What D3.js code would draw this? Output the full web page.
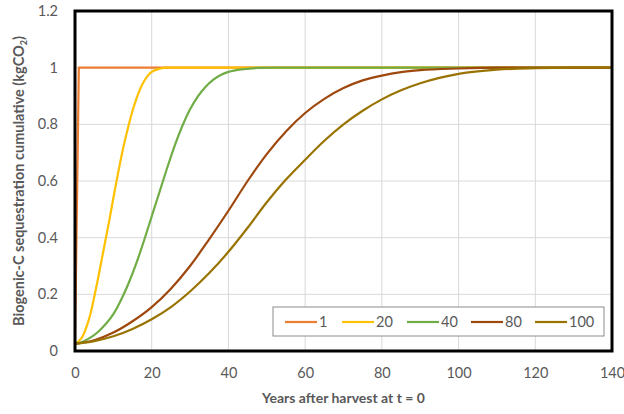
<!DOCTYPE html>
<html>
<head>
<meta charset="utf-8">
<script src="https://cdn.jsdelivr.net/npm/d3@7"></script>
<style>
  body { margin: 0; background: #fff; }
  text { font-family: Lato, "Open Sans", sans-serif; }
</style>
</head>
<body>
<div id="chart"></div>
<script>
// rotation-length series (legend labels)
const seriesNames = ['1', '20', '40', '80', '100'];
const seriesColors = ['#ED7D31', '#FFC000', '#70AD47', '#9E480E', '#997300'];

const years1 = [0, 1, 140];
const vals1  = [0.025, 1, 1];

const years20 = [0, 1, 2, 3, 4, 5, 6, 7, 8, 9, 10, 11, 12, 13, 14, 15, 16, 17, 18, 19, 20, 22, 24, 140];
const vals20  = [0.025, 0.035, 0.052, 0.085, 0.13, 0.19, 0.255, 0.325, 0.395, 0.465, 0.54, 0.612, 0.68,
                 0.742, 0.798, 0.848, 0.89, 0.925, 0.952, 0.972, 0.985, 0.996, 1, 1];

const years40 = [0, 2, 4, 6, 8, 10, 12, 14, 16, 18, 20, 22, 24, 26, 28, 30, 32, 34, 36, 38, 40, 44, 48, 52, 140];
const vals40  = [0.025, 0.033, 0.047, 0.067, 0.095, 0.13, 0.18, 0.24, 0.31, 0.39, 0.475, 0.56, 0.645, 0.725,
                 0.795, 0.853, 0.898, 0.932, 0.957, 0.974, 0.985, 0.995, 0.999, 1, 1];

const years80 = [0, 5, 10, 15, 20, 25, 30, 35, 40, 45, 50, 55, 60, 65, 70, 75, 80, 85, 90, 100, 110, 140];
const vals80  = [0.025, 0.038, 0.065, 0.105, 0.155, 0.22, 0.3, 0.395, 0.495, 0.6, 0.695, 0.775, 0.84, 0.89,
                 0.928, 0.955, 0.972, 0.984, 0.991, 0.997, 1, 1];

const years100 = [0, 5, 10, 15, 20, 25, 30, 35, 40, 45, 50, 55, 60, 65, 70, 75, 80, 85, 90, 95, 100, 110, 120, 130, 140];
const vals100  = [0.025, 0.035, 0.052, 0.078, 0.112, 0.155, 0.21, 0.275, 0.35, 0.435, 0.525, 0.605, 0.675, 0.742,
                  0.8, 0.848, 0.888, 0.92, 0.945, 0.964, 0.978, 0.993, 0.998, 1, 1];

const xTicks = [0, 20, 40, 60, 80, 100, 120, 140];
const yTicks = [0, 0.2, 0.4, 0.6, 0.8, 1, 1.2];

const seriesYears = [years1, years20, years40, years80, years100];
const seriesVals  = [vals1, vals20, vals40, vals80, vals100];

const width = 624, height = 414;
const margin = { left: 75, right: 12, top: 11, bottom: 63 };

const svg = d3.select('#chart').append('svg')
  .attr('width', width)
  .attr('height', height);

const x = d3.scaleLinear().domain([0, 140]).range([margin.left, width - margin.right]);
const y = d3.scaleLinear().domain([0, 1.2]).range([height - margin.bottom, margin.top]);

// gridlines
svg.append('g')
  .selectAll('line')
  .data(yTicks.slice(1, -1))
  .join('line')
  .attr('x1', x(0)).attr('x2', x(140))
  .attr('y1', d => y(d)).attr('y2', d => y(d))
  .attr('stroke', '#D9D9D9').attr('stroke-width', 1);

svg.append('g')
  .selectAll('line')
  .data(xTicks.slice(1, -1))
  .join('line')
  .attr('x1', d => x(d)).attr('x2', d => x(d))
  .attr('y1', y(0)).attr('y2', y(1.2))
  .attr('stroke', '#D9D9D9').attr('stroke-width', 1);

// axes (labels only, Excel style)
const xAxis = svg.append('g')
  .attr('transform', `translate(0,${y(0)})`)
  .call(d3.axisBottom(x).tickValues(xTicks).tickSize(0).tickPadding(17));
const yAxis = svg.append('g')
  .attr('transform', `translate(${x(0)},0)`)
  .call(d3.axisLeft(y).tickValues(yTicks).tickSize(0).tickPadding(17)
    .tickFormat(d => d3.format('~g')(d)));
[xAxis, yAxis].forEach(a => {
  a.select('.domain').remove();
  a.selectAll('text')
    .attr('font-size', '14.5px')
    .attr('fill', '#595959')
    .style('font-family', 'Lato, "Open Sans", sans-serif');
});

// lines
const smooth = d3.line()
  .x(d => x(d[0]))
  .y(d => y(d[1]))
  .curve(d3.curveMonotoneX);
const straight = d3.line()
  .x(d => x(d[0]))
  .y(d => y(d[1]));

seriesNames.forEach((name, i) => {
  const pts = seriesYears[i].map((yr, j) => [yr, seriesVals[i][j]]);
  svg.append('path')
    .datum(pts)
    .attr('fill', 'none')
    .attr('stroke', seriesColors[i])
    .attr('stroke-width', 2.2)
    .attr('stroke-linejoin', 'round')
    .attr('d', i === 0 ? straight(pts) : smooth(pts));
});

// plot border
svg.append('rect')
  .attr('x', x(0)).attr('y', y(1.2))
  .attr('width', x(140) - x(0))
  .attr('height', y(0) - y(1.2))
  .attr('fill', 'none')
  .attr('stroke', '#000')
  .attr('stroke-width', 3);

// legend
const legend = svg.append('g').attr('transform', 'translate(273,307)');
legend.append('rect')
  .attr('width', 331).attr('height', 29)
  .attr('fill', '#fff')
  .attr('stroke', '#8C8C8C')
  .attr('stroke-width', 1);
const legendX = [12, 69, 134, 198, 262];
seriesNames.forEach((name, i) => {
  const g = legend.append('g').attr('transform', `translate(${legendX[i]},15)`);
  g.append('line')
    .attr('x1', 0).attr('x2', 32)
    .attr('stroke', seriesColors[i]).attr('stroke-width', 2.2);
  g.append('text')
    .attr('x', 34).attr('y', 5)
    .attr('font-size', '14.5px')
    .attr('fill', '#595959')
    .text(name);
});

// axis titles
svg.append('text')
  .attr('x', (x(0) + x(140)) / 2)
  .attr('y', 403)
  .attr('text-anchor', 'middle')
  .attr('font-size', '14px')
  .attr('font-weight', 'bold')
  .attr('fill', '#595959')
  .text('Years after harvest at t = 0');

const yt = svg.append('text')
  .attr('transform', `translate(24,${(y(0) + y(1.2)) / 2}) rotate(-90)`)
  .attr('text-anchor', 'middle')
  .attr('font-size', '14.5px')
  .attr('font-weight', 'bold')
  .attr('fill', '#595959');
yt.append('tspan').text('Biogenic-C sequestration cumulative (kgCO');
yt.append('tspan').attr('font-size', '9px').attr('dy', 3).text('2');
yt.append('tspan').attr('dy', -3).text(')');
</script>
</body>
</html>
